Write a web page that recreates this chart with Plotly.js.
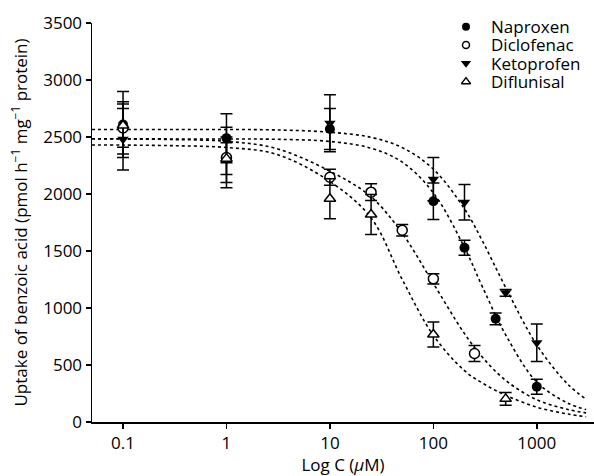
<!DOCTYPE html>
<html>
<head>
<meta charset="utf-8">
<script src="https://cdn.plot.ly/plotly-3.0.1.min.js"></script>
<style>html,body{margin:0;padding:0;background:#fff;}#chart{width:594px;height:476px;}</style>
</head>
<body>
<div id="chart"></div>
<script>
// Measured points (mean ± SEM)
const naproxenX = [0.1, 1, 10, 100, 200, 400, 1000];
const naproxenY = [2610, 2490, 2570, 1937, 1528, 905, 309];
const naproxenErr = [290, 215, 180, 160, 66, 52, 66];

const diclofenacX = [0.1, 1, 10, 25, 50, 100, 250];
const diclofenacY = [2580, 2320, 2147, 2016, 1682, 1256, 601];
const diclofenacErr = [230, 265, 70, 73, 50, 45, 70];

const ketoprofenX = [0.1, 1, 10, 100, 200, 500, 1000];
const ketoprofenY = [2480, 2300, 2620, 2130, 1928, 1133, 695];
const ketoprofenErr = [270, 200, 250, 190, 155, 30, 165];

const diflunisalX = [0.1, 1, 10, 25, 100, 500];
const diflunisalY = [2600, 2310, 1958, 1820, 768, 203];
const diflunisalErr = [190, 140, 175, 175, 110, 55];

// Fitted curves
const curveX = [0.05, 0.1, 0.3, 1, 3, 10, 25, 50, 100, 200, 300, 500, 1000, 2000, 3000];
const naproxenFit   = [2484, 2484, 2483, 2482, 2480, 2461, 2402, 2280, 2010, 1530, 1180, 765, 350, 165, 109];
const diclofenacFit = [2484, 2483, 2478, 2462, 2400, 2200, 1975, 1655, 1215, 775, 565, 365, 195, 110, 80];
const ketoprofenFit = [2566, 2566, 2566, 2566, 2562, 2542, 2497, 2407, 2218, 1869, 1583, 1180, 676, 330, 200];
const diflunisalFit = [2430, 2429, 2424, 2408, 2350, 2110, 1790, 1250, 760, 450, 340, 235, 130, 70, 46];

const seriesNames = ['Naproxen', 'Diclofenac', 'Ketoprofen', 'Diflunisal'];

const FONT = '"Open Sans", "Noto Sans", sans-serif';
const markerStyles = [
  {symbol: 'circle', size: 10, color: '#000'},
  {symbol: 'circle', size: 10, color: '#fff', line: {color: '#000', width: 1.5}},
  {symbol: 'triangle-down', size: 10, color: '#000'},
  {symbol: 'triangle-up', size: 10, color: '#fff', line: {color: '#000', width: 1.5}}
];
const legendMarkerStyles = [
  {symbol: 'circle', size: 8, color: '#000'},
  {symbol: 'circle', size: 7, color: '#fff', line: {color: '#000', width: 1.5}},
  {symbol: 'triangle-down', size: 9, color: '#000'},
  {symbol: 'triangle-up', size: 8, color: '#fff', line: {color: '#000', width: 1.5}}
];
// legend placement (pixels in the 594x476 figure)
const legendMarkerPx = 466, legendTextPx = 489, legendRowsPx = [26.7, 45.0, 63.3, 81.7];
const plotL = 92, plotR = 594, plotT = 23, plotB = 422.5;

function fitTrace(y) {
  return {x: curveX, y: y, mode: 'lines', type: 'scatter', showlegend: false, hoverinfo: 'skip',
    line: {color: '#000', width: 1.6, dash: 'dot', shape: 'spline'}};
}
function ptTrace(name, x, y, err, marker) {
  return {x: x, y: y, name: name, mode: 'markers', type: 'scatter', showlegend: false,
    error_y: {type: 'data', array: err, visible: true, color: '#000', thickness: 1.5, width: 6},
    marker: marker};
}

const toPx = px => (px - plotL) / (plotR - plotL);
const toPy = py => (plotB - py) / (plotB - plotT);

const data = [
  fitTrace(naproxenFit), fitTrace(diclofenacFit), fitTrace(ketoprofenFit), fitTrace(diflunisalFit),
  ptTrace(seriesNames[0], naproxenX, naproxenY, naproxenErr, markerStyles[0]),
  ptTrace(seriesNames[1], diclofenacX, diclofenacY, diclofenacErr, markerStyles[1]),
  ptTrace(seriesNames[2], ketoprofenX, ketoprofenY, ketoprofenErr, markerStyles[2]),
  ptTrace(seriesNames[3], diflunisalX, diflunisalY, diflunisalErr, markerStyles[3])
];
// legend key markers on an overlay axis spanning the plot area
seriesNames.forEach((n, i) => {
  data.push({x: [toPx(legendMarkerPx)], y: [toPy(legendRowsPx[i])], xaxis: 'x2', yaxis: 'y2',
    mode: 'markers', type: 'scatter', showlegend: false, hoverinfo: 'skip', cliponaxis: false,
    marker: legendMarkerStyles[i]});
});

const annotations = seriesNames.map((n, i) => ({
  text: n, xref: 'paper', yref: 'paper', x: toPx(legendTextPx), y: toPy(legendRowsPx[i]),
  xanchor: 'left', yanchor: 'middle', showarrow: false,
  font: {family: FONT, size: 17, color: '#000'}
}));

const layout = {
  width: 594, height: 476,
  margin: {l: plotL, r: 594 - plotR, t: plotT, b: 476 - plotB, pad: 0},
  paper_bgcolor: '#fff', plot_bgcolor: '#fff',
  font: {family: FONT, size: 17, color: '#000'},
  showlegend: false,
  annotations: annotations,
  xaxis: {
    type: 'log', range: [-1.3, 3.553],
    tickvals: [0.1, 1, 10, 100, 1000], ticktext: ['0.1', '1', '10', '100', '1000'],
    ticks: 'outside', ticklen: 5, tickwidth: 1.5, tickcolor: '#000',
    showline: true, linecolor: '#000', linewidth: 1.5, showgrid: false, zeroline: false,
    tickfont: {family: FONT, size: 17, color: '#000'},
    title: {text: 'Log C (<i>μ</i>M)', font: {family: FONT, size: 17, color: '#000'}, standoff: 9}
  },
  yaxis: {
    range: [0, 3500], dtick: 500,
    ticks: 'outside', ticklen: 5, tickwidth: 1.5, tickcolor: '#000',
    showline: true, linecolor: '#000', linewidth: 1.5, showgrid: false, zeroline: false,
    tickfont: {family: FONT, size: 17, color: '#000'},
    title: {text: 'Uptake of benzoic acid (pmol h<sup>−1</sup> mg<sup>−1</sup> protein)', font: {family: FONT, size: 17, color: '#000'}, standoff: 11}
  },
  xaxis2: {overlaying: 'x', range: [0, 1], visible: false, fixedrange: true},
  yaxis2: {overlaying: 'y', range: [0, 1], visible: false, fixedrange: true}
};

Plotly.newPlot('chart', data, layout, {displayModeBar: false, staticPlot: true});
</script>
</body>
</html>
